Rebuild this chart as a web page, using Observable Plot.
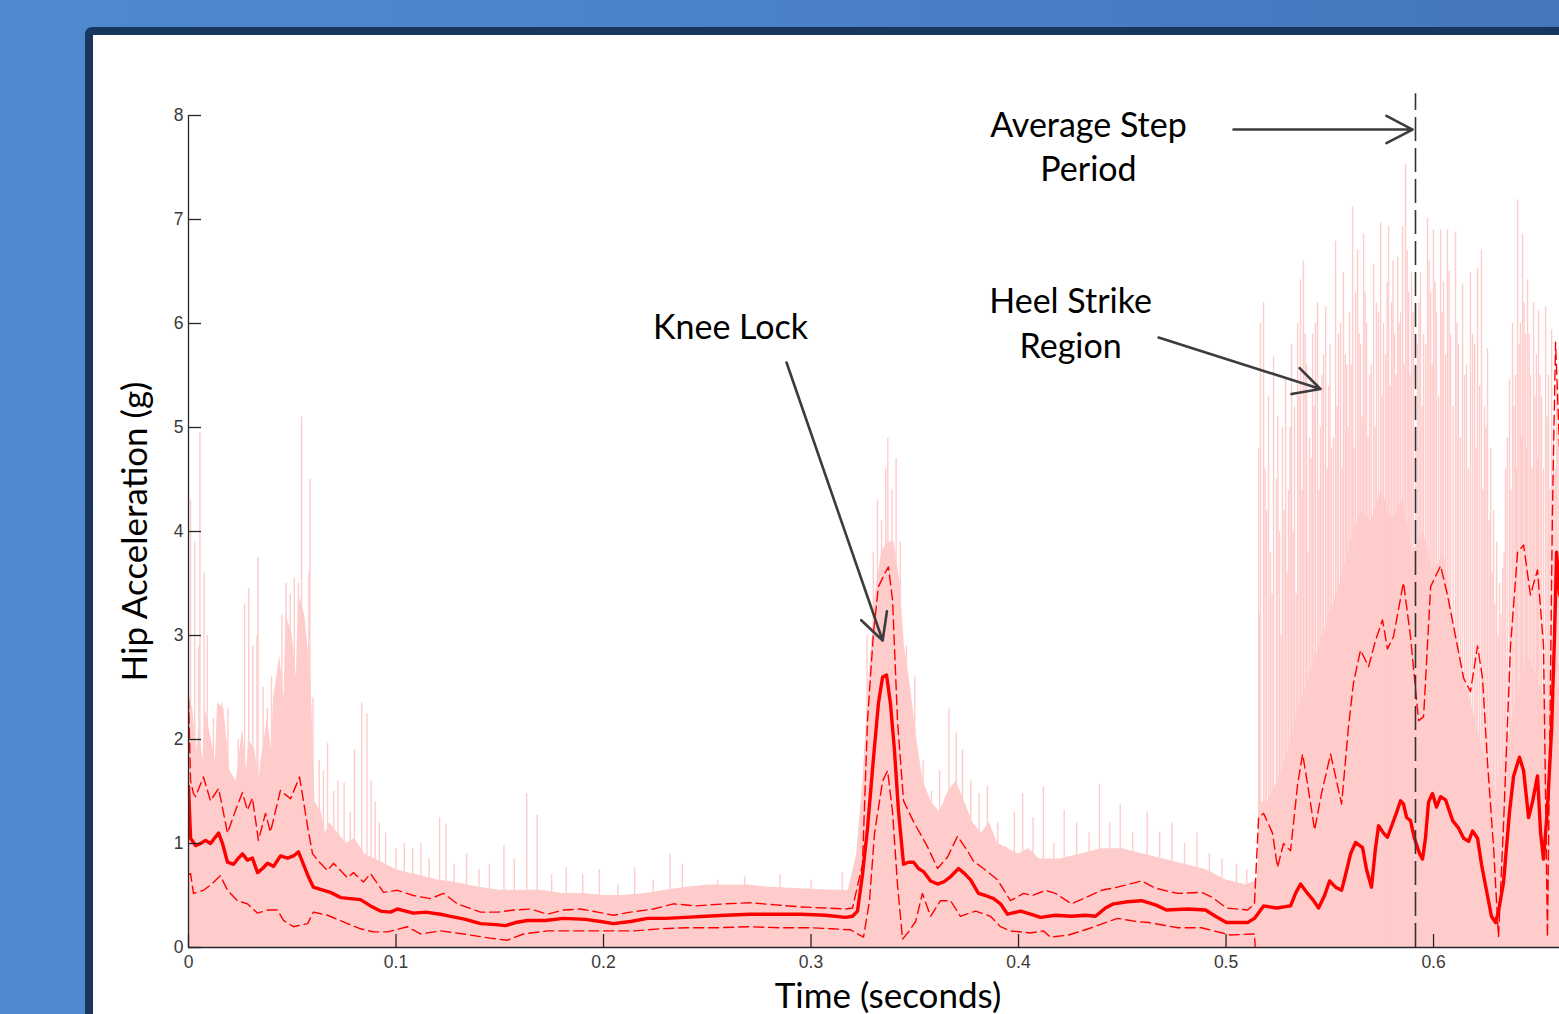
<!DOCTYPE html>
<html><head><meta charset="utf-8">
<script src="https://cdn.jsdelivr.net/npm/d3@7"></script>
<script src="https://cdn.jsdelivr.net/npm/@observablehq/plot@0.6"></script>
<style>
html,body{margin:0;padding:0;width:1559px;height:1014px;overflow:hidden;}
body{background:linear-gradient(to right,#5189d1 0%,#4b81c9 50%,#4576bb 100%);position:relative;}
#frame{position:absolute;left:85px;top:27px;width:1520px;height:1050px;background:#fff;border:8px solid #17375e;border-radius:7px;}
#chart{position:absolute;left:93px;top:35px;}
</style></head><body>
<div id="frame"></div><div id="chart"></div>
<script>
// ---- data (time in seconds, hip acceleration in g) ----
const xTicks = [0, 0.1, 0.2, 0.3, 0.4, 0.5, 0.6];
const yTicks = [0, 1, 2, 3, 4, 5, 6, 7, 8];
const xLabel = "Time (seconds)";
const yLabel = "Hip Acceleration (g)";
const stepPeriod = 0.5913;
const stepLineTop = 8.21;

const meanCurve = [[0,1.55],[0.001,1.05],[0.0034,0.98],[0.0058,1.00],[0.0082,1.03],[0.0106,1.00],[0.0125,1.05],[0.0145,1.10],[0.0164,1.00],[0.0188,0.82],[0.0217,0.80],[0.0241,0.86],[0.026,0.90],[0.0284,0.84],[0.0308,0.86],[0.0333,0.72],[0.0357,0.76],[0.0381,0.81],[0.041,0.78],[0.0443,0.88],[0.0477,0.86],[0.0506,0.88],[0.053,0.92],[0.0554,0.80],[0.0578,0.68],[0.0602,0.58],[0.0636,0.56],[0.0684,0.53],[0.0733,0.48],[0.0781,0.47],[0.0829,0.46],[0.0877,0.40],[0.0925,0.35],[0.0973,0.34],[0.1007,0.37],[0.1046,0.35],[0.1084,0.33],[0.1142,0.34],[0.1214,0.32],[0.1263,0.30],[0.1335,0.27],[0.1407,0.23],[0.148,0.22],[0.1528,0.21],[0.1576,0.24],[0.1634,0.26],[0.172,0.26],[0.1807,0.28],[0.1913,0.27],[0.1986,0.25],[0.2048,0.23],[0.213,0.25],[0.2212,0.28],[0.2299,0.28],[0.2395,0.29],[0.2492,0.30],[0.2588,0.31],[0.2708,0.32],[0.2829,0.32],[0.2949,0.32],[0.307,0.31],[0.3166,0.29],[0.32,0.30],[0.3224,0.35],[0.3248,0.70],[0.3272,1.14],[0.3301,1.82],[0.3325,2.35],[0.3345,2.60],[0.3364,2.62],[0.3383,2.34],[0.3402,1.90],[0.3422,1.30],[0.3446,0.80],[0.347,0.82],[0.3494,0.82],[0.3518,0.76],[0.3542,0.73],[0.3576,0.64],[0.361,0.61],[0.3639,0.63],[0.3672,0.68],[0.3711,0.76],[0.374,0.71],[0.3769,0.65],[0.3807,0.52],[0.3841,0.50],[0.388,0.47],[0.3913,0.42],[0.3947,0.32],[0.401,0.35],[0.4058,0.32],[0.4106,0.29],[0.4178,0.31],[0.4255,0.30],[0.4323,0.31],[0.4371,0.30],[0.4419,0.38],[0.4458,0.42],[0.4525,0.44],[0.4593,0.45],[0.466,0.41],[0.4713,0.36],[0.4814,0.37],[0.4901,0.36],[0.4949,0.30],[0.5002,0.24],[0.507,0.24],[0.5104,0.24],[0.5137,0.28],[0.5181,0.40],[0.5243,0.38],[0.5311,0.40],[0.5335,0.52],[0.5359,0.61],[0.5393,0.52],[0.5422,0.45],[0.5446,0.38],[0.5475,0.50],[0.5499,0.64],[0.5528,0.58],[0.5557,0.55],[0.5581,0.74],[0.56,0.90],[0.5624,1.01],[0.5658,0.96],[0.5677,0.75],[0.5701,0.58],[0.572,0.95],[0.5735,1.17],[0.5759,1.10],[0.5778,1.06],[0.5802,1.19],[0.5822,1.30],[0.5841,1.41],[0.5855,1.38],[0.587,1.25],[0.5889,1.22],[0.5908,1.05],[0.5933,0.90],[0.5947,0.85],[0.5961,1.05],[0.5976,1.40],[0.5995,1.48],[0.6014,1.35],[0.6034,1.45],[0.6058,1.42],[0.6092,1.22],[0.612,1.15],[0.6145,1.05],[0.6169,1.02],[0.6188,1.12],[0.6212,1.05],[0.6231,0.80],[0.6255,0.55],[0.6279,0.30],[0.6299,0.24],[0.6313,0.35],[0.6337,0.62],[0.6366,1.30],[0.6386,1.65],[0.6414,1.83],[0.6434,1.70],[0.6458,1.25],[0.6477,1.40],[0.6501,1.65],[0.6516,1.10],[0.653,0.85],[0.6549,1.34],[0.6569,2.10],[0.6583,3.00],[0.6593,3.80],[0.6607,3.40],[0.6636,3.20]];

const upperCurve = [[0,2.40],[0.001,1.60],[0.0024,1.48],[0.0034,1.45],[0.0072,1.64],[0.0106,1.41],[0.0145,1.53],[0.0188,1.10],[0.0227,1.32],[0.026,1.49],[0.0284,1.32],[0.0308,1.44],[0.0337,1.03],[0.0371,1.29],[0.0395,1.11],[0.0443,1.51],[0.0492,1.43],[0.0535,1.64],[0.0554,1.41],[0.0574,1.16],[0.0598,0.90],[0.0636,0.81],[0.067,0.74],[0.0699,0.81],[0.0766,0.67],[0.0795,0.72],[0.0843,0.63],[0.0877,0.71],[0.094,0.53],[0.1007,0.55],[0.1084,0.50],[0.1166,0.47],[0.1229,0.52],[0.1296,0.42],[0.1407,0.34],[0.1489,0.34],[0.1566,0.36],[0.1648,0.37],[0.173,0.32],[0.1807,0.36],[0.1889,0.37],[0.1971,0.34],[0.2048,0.31],[0.213,0.34],[0.2241,0.37],[0.2337,0.42],[0.2443,0.40],[0.2588,0.42],[0.2708,0.43],[0.2829,0.41],[0.2949,0.39],[0.307,0.38],[0.3166,0.37],[0.32,0.38],[0.3248,0.80],[0.3272,2.17],[0.3301,3.03],[0.3325,3.47],[0.3359,3.61],[0.3373,3.66],[0.3393,3.34],[0.3417,2.17],[0.3446,1.41],[0.3494,1.21],[0.3561,0.97],[0.361,0.76],[0.3658,0.87],[0.3706,1.07],[0.3754,0.93],[0.3783,0.83],[0.3831,0.76],[0.3899,0.65],[0.3961,0.45],[0.4024,0.52],[0.4067,0.50],[0.413,0.55],[0.4178,0.52],[0.4255,0.42],[0.4323,0.48],[0.44,0.55],[0.4477,0.58],[0.4593,0.64],[0.466,0.57],[0.4766,0.52],[0.4882,0.53],[0.4935,0.48],[0.5002,0.38],[0.5104,0.36],[0.5137,0.42],[0.5157,1.25],[0.5181,1.29],[0.5224,1.10],[0.5248,0.77],[0.5277,1.00],[0.5311,0.93],[0.5345,1.57],[0.5369,1.86],[0.5393,1.57],[0.5427,1.13],[0.546,1.48],[0.5504,1.86],[0.5557,1.38],[0.559,2.12],[0.5614,2.54],[0.5648,2.86],[0.5687,2.70],[0.572,2.95],[0.5754,3.15],[0.5778,2.87],[0.5807,2.99],[0.5855,3.51],[0.5889,2.99],[0.5928,2.18],[0.5952,2.22],[0.5986,3.47],[0.6034,3.67],[0.6067,3.39],[0.6106,2.99],[0.6145,2.59],[0.6178,2.46],[0.6212,2.90],[0.6236,2.59],[0.626,1.78],[0.6289,0.97],[0.6313,0.10],[0.6337,1.17],[0.6371,2.90],[0.6405,3.80],[0.6434,3.87],[0.6467,3.39],[0.6501,3.63],[0.653,2.90],[0.6549,0.10],[0.6573,4.20],[0.6588,5.82],[0.6607,4.81]];

const lowerCurve = [[0,0.70],[0.001,0.71],[0.0024,0.52],[0.0072,0.55],[0.0106,0.60],[0.0154,0.69],[0.0188,0.55],[0.0236,0.45],[0.0284,0.42],[0.0333,0.33],[0.0381,0.36],[0.0429,0.36],[0.0458,0.26],[0.0506,0.20],[0.0574,0.23],[0.0602,0.34],[0.067,0.31],[0.0766,0.23],[0.0829,0.18],[0.0891,0.15],[0.0959,0.15],[0.1055,0.20],[0.1118,0.13],[0.1214,0.16],[0.1325,0.13],[0.1455,0.09],[0.1537,0.07],[0.1614,0.13],[0.173,0.16],[0.1807,0.16],[0.1923,0.16],[0.2048,0.16],[0.2145,0.16],[0.2275,0.18],[0.24,0.19],[0.255,0.19],[0.27,0.20],[0.285,0.19],[0.30,0.19],[0.31,0.18],[0.319,0.17],[0.3253,0.10],[0.3282,0.45],[0.3306,1.10],[0.3345,1.60],[0.3369,1.70],[0.3393,1.30],[0.3417,0.60],[0.3441,0.08],[0.347,0.15],[0.3504,0.25],[0.3537,0.52],[0.3576,0.30],[0.3624,0.45],[0.3672,0.45],[0.372,0.30],[0.3793,0.35],[0.3865,0.30],[0.3913,0.20],[0.3961,0.16],[0.4058,0.14],[0.412,0.16],[0.4154,0.10],[0.4241,0.12],[0.4337,0.18],[0.4419,0.24],[0.4477,0.28],[0.4569,0.25],[0.4627,0.24],[0.4766,0.19],[0.4882,0.19],[0.502,0.12],[0.5137,0.13],[0.5157,-0.6],[0.53,-0.9],[0.56,-1.6],[0.59,-1.4],[0.62,-0.9],[0.6313,-0.4],[0.64,-1.5],[0.6607,-1.8]];

// dense core of the individual (pink) step traces: upper edge
const traceBand = [[0,2.4],[0.002,2.3],[0.004,1.9],[0.005,2.1],[0.007,1.8],[0.008,2.3],[0.011,2.0],[0.013,1.8],[0.014,2.35],[0.017,2.3],[0.02,1.7],[0.023,1.6],[0.026,2.1],[0.028,1.7],[0.029,2.0],[0.032,1.9],[0.034,1.6],[0.035,1.8],[0.038,2.2],[0.04,1.9],[0.041,2.4],[0.044,2.8],[0.046,2.4],[0.047,3.2],[0.05,3.0],[0.052,2.6],[0.053,3.4],[0.056,3.2],[0.059,2.6],[0.061,1.4],[0.064,1.3],[0.066,1.1],[0.068,1.2],[0.072,1.1],[0.076,1.0],[0.08,1.05],[0.085,0.9],[0.09,0.85],[0.095,0.8],[0.1,0.75],[0.105,0.72],[0.11,0.7],[0.12,0.65],[0.13,0.62],[0.14,0.58],[0.15,0.55],[0.16,0.55],[0.17,0.55],[0.18,0.52],[0.19,0.52],[0.2,0.5],[0.21,0.5],[0.22,0.52],[0.23,0.55],[0.24,0.58],[0.25,0.6],[0.26,0.6],[0.27,0.6],[0.28,0.58],[0.29,0.57],[0.3,0.56],[0.31,0.55],[0.318,0.55],[0.322,0.9],[0.325,1.6],[0.328,2.6],[0.331,3.4],[0.334,3.8],[0.337,3.9],[0.34,3.9],[0.343,3.5],[0.345,2.9],[0.348,2.5],[0.351,2.0],[0.354,1.6],[0.358,1.4],[0.362,1.3],[0.366,1.5],[0.37,1.6],[0.374,1.4],[0.378,1.2],[0.382,1.1],[0.386,1.2],[0.39,1.0],[0.395,0.95],[0.4,0.9],[0.405,0.95],[0.41,0.85],[0.42,0.85],[0.43,0.9],[0.44,0.95],[0.45,0.95],[0.46,0.9],[0.47,0.85],[0.48,0.8],[0.49,0.75],[0.5,0.65],[0.51,0.6],[0.515,0.65],[0.517,1.4],[0.52,1.4],[0.525,1.6],[0.53,1.9],[0.535,2.3],[0.54,2.6],[0.545,2.9],[0.55,3.2],[0.555,3.5],[0.56,3.9],[0.565,4.2],[0.57,4.1],[0.575,4.4],[0.58,4.1],[0.585,4.3],[0.59,3.8],[0.595,4.0],[0.6,3.6],[0.605,3.8],[0.61,3.1],[0.615,2.6],[0.62,2.2],[0.625,1.8],[0.63,1.5],[0.635,1.9],[0.64,2.4],[0.645,2.8],[0.65,2.6],[0.655,2.3],[0.66,2.5],[0.665,2.5]];

// peaks of individual (pink) step traces
const tracePeaks = [[0.001,4.3],[0.003,3.9],[0.005,2.9],[0.0055,4.95],[0.0075,3.6],[0.009,3.0],[0.012,2.2],[0.016,2.35],[0.019,2.3],[0.024,2.0],[0.027,3.3],[0.029,3.45],[0.031,2.9],[0.033,3.0],[0.0335,3.75],[0.036,2.5],[0.038,2.3],[0.04,2.6],[0.043,2.5],[0.045,3.2],[0.047,3.5],[0.049,3.4],[0.051,3.55],[0.053,3.5],[0.0545,5.1],[0.056,3.0],[0.058,3.6],[0.0585,4.5],[0.06,2.4],[0.063,1.8],[0.065,1.7],[0.067,1.96],[0.07,1.5],[0.072,1.6],[0.075,1.58],[0.078,1.3],[0.08,1.9],[0.0835,2.35],[0.086,2.25],[0.088,1.6],[0.09,1.4],[0.092,1.2],[0.095,1.1],[0.1,0.95],[0.104,1.0],[0.108,0.95],[0.112,1.0],[0.116,0.85],[0.121,1.25],[0.124,1.19],[0.128,0.8],[0.134,0.9],[0.14,0.75],[0.145,0.8],[0.152,0.98],[0.157,0.85],[0.163,1.48],[0.168,1.27],[0.175,0.7],[0.182,0.77],[0.19,0.7],[0.198,0.75],[0.207,0.6],[0.215,0.77],[0.224,0.65],[0.232,0.9],[0.238,0.8],[0.255,0.65],[0.268,0.68],[0.285,0.7],[0.3,0.65],[0.315,0.72],[0.327,3.0],[0.33,3.8],[0.332,4.3],[0.334,4.1],[0.336,4.6],[0.337,4.9],[0.339,4.4],[0.341,4.7],[0.343,3.9],[0.346,2.9],[0.35,2.6],[0.354,1.8],[0.358,1.5],[0.362,1.7],[0.3665,2.3],[0.37,2.07],[0.373,1.9],[0.377,1.6],[0.381,1.48],[0.385,1.55],[0.39,1.2],[0.394,0.97],[0.398,1.3],[0.402,1.48],[0.407,1.25],[0.412,1.54],[0.417,1.0],[0.422,1.32],[0.428,1.2],[0.434,1.1],[0.439,1.57],[0.444,1.2],[0.449,1.38],[0.455,1.1],[0.462,1.3],[0.468,1.11],[0.474,1.2],[0.48,1.0],[0.486,1.1],[0.492,0.9],[0.498,0.85],[0.505,0.8],[0.51,0.75],[0.5157,4.8],[0.5162,3.2],[0.5166,6.0],[0.5181,6.2],[0.5188,4.6],[0.5195,4.2],[0.5205,5.3],[0.5214,3.8],[0.5222,3.4],[0.5229,5.68],[0.5243,4.5],[0.525,5.1],[0.5258,4.0],[0.5265,3.0],[0.5272,5.0],[0.528,4.2],[0.5287,5.46],[0.5294,3.6],[0.5301,4.4],[0.5309,5.0],[0.5316,5.8],[0.5323,4.0],[0.533,5.2],[0.5338,3.4],[0.5345,6.0],[0.5352,5.3],[0.5359,6.42],[0.5366,4.4],[0.5373,6.6],[0.5381,5.9],[0.5388,5.6],[0.5395,3.8],[0.5402,4.9],[0.541,4.7],[0.5417,5.9],[0.5424,5.2],[0.5431,6.0],[0.5441,6.2],[0.5448,4.4],[0.5455,5.0],[0.5463,5.5],[0.547,5.7],[0.548,6.16],[0.5487,4.6],[0.5494,5.4],[0.5501,5.8],[0.5508,4.8],[0.5518,4.9],[0.5528,6.79],[0.5535,5.2],[0.5542,5.9],[0.5552,6.0],[0.5559,4.6],[0.5566,6.49],[0.5574,5.7],[0.5581,5.6],[0.5588,5.0],[0.5595,6.1],[0.5603,5.6],[0.561,7.12],[0.5617,4.8],[0.5624,6.3],[0.5634,6.71],[0.5641,5.9],[0.5648,5.8],[0.5656,5.1],[0.5663,6.86],[0.567,6.3],[0.5677,6.0],[0.5684,4.9],[0.5692,5.5],[0.57,5.6],[0.5711,6.57],[0.5718,5.0],[0.5725,6.2],[0.5735,6.1],[0.5745,6.97],[0.5752,5.3],[0.5759,6.0],[0.5769,5.7],[0.5776,6.4],[0.5783,6.93],[0.579,5.4],[0.5798,6.2],[0.5805,6.6],[0.5812,5.9],[0.582,5.5],[0.5827,6.64],[0.5834,6.0],[0.5841,6.1],[0.5851,6.93],[0.5858,5.6],[0.5865,7.53],[0.5873,6.7],[0.588,6.3],[0.5887,5.5],[0.5894,6.49],[0.5902,6.1],[0.5915,5.0],[0.5923,5.8],[0.593,6.2],[0.5937,6.49],[0.5945,5.2],[0.5952,5.9],[0.5962,5.8],[0.5971,7.01],[0.5978,6.6],[0.5986,6.3],[0.5993,5.6],[0.6,6.9],[0.6007,6.4],[0.6014,6.1],[0.6024,5.3],[0.6034,6.9],[0.6041,6.1],[0.6048,6.4],[0.6058,5.7],[0.6067,6.9],[0.6075,6.5],[0.6082,5.9],[0.6094,5.2],[0.6106,6.88],[0.6113,6.0],[0.612,5.8],[0.613,4.9],[0.614,6.38],[0.615,5.5],[0.6159,5.6],[0.6168,4.6],[0.6178,6.49],[0.6188,5.9],[0.6198,5.8],[0.6205,4.8],[0.6212,6.53],[0.6222,5.4],[0.6231,6.71],[0.6238,4.4],[0.6246,5.2],[0.6253,5.0],[0.626,5.76],[0.6268,4.1],[0.6275,4.8],[0.6282,3.6],[0.6289,4.2],[0.6296,3.3],[0.6304,3.9],[0.6311,3.0],[0.6318,3.5],[0.6325,3.2],[0.6333,3.65],[0.634,3.8],[0.6347,4.6],[0.6356,4.9],[0.6366,5.46],[0.6373,4.4],[0.6381,6.0],[0.6388,5.2],[0.6395,5.5],[0.64,4.6],[0.6405,7.19],[0.6412,5.8],[0.6419,6.0],[0.6424,4.9],[0.6429,6.86],[0.6436,6.2],[0.6443,5.9],[0.6448,4.8],[0.6453,6.42],[0.646,5.9],[0.6467,5.5],[0.6475,4.6],[0.6482,6.2],[0.6489,5.3],[0.6496,5.7],[0.6501,4.7],[0.6506,6.12],[0.6513,5.5],[0.652,5.3],[0.653,4.6],[0.654,6.16],[0.6547,5.1],[0.6554,5.5],[0.6561,4.4],[0.6569,5.94],[0.6578,5.0],[0.6586,4.6],[0.6593,5.4],[0.66,5.0],[0.6607,5.76]];

const annotations = [
  {t: 0.2612, g: 5.99, text: "Knee Lock"},
  {t: 0.4337, g: 7.72, text: "Average Step\nPeriod"},
  {t: 0.4251, g: 6.02, text: "Heel Strike\nRegion"}
];
const arrows = [
  {t1: 0.2882, g1: 5.625, t2: 0.3345, g2: 2.952},
  {t1: 0.5036, g1: 7.865, t2: 0.5899, g2: 7.865},
  {t1: 0.4675, g1: 5.865, t2: 0.5455, g2: 5.37}
];

// ---- layout ----
const W = 1466, H = 979, mL = 95, mT = 80, mR = 0, mB = 67;
const frameW = W - mL - mR, frameH = H - mT - mB;
const xMax = 0.6607;
const toRows = a => a.map(([t, g]) => ({t, g}));
const RED = "#ff0000", PINK = "#ffcccc", AXIS = "#262626";
const textFont = "Lato, 'Open Sans', sans-serif";
const tickFont = "'Liberation Sans', Arial, sans-serif";

const chart = Plot.plot({
  width: W, height: H,
  marginLeft: mL, marginTop: mT, marginRight: mR, marginBottom: mB,
  x: {domain: [0, xMax], axis: null},
  y: {domain: [0, 8], axis: null},
  style: {background: "transparent", overflow: "visible", fontFamily: tickFont},
  marks: [
    Plot.areaY(toRows(traceBand), {x: "t", y: "g", fill: PINK, clip: true}),
    Plot.ruleX(toRows(tracePeaks), {x: "t", y1: 0, y2: "g", stroke: PINK, strokeWidth: 1.4, clip: true}),
    Plot.line(toRows(lowerCurve), {x: "t", y: "g", stroke: RED, strokeWidth: 1.4, strokeDasharray: "10,5", clip: true}),
    Plot.line(toRows(upperCurve), {x: "t", y: "g", stroke: RED, strokeWidth: 1.4, strokeDasharray: "10,5", clip: true}),
    Plot.line(toRows(meanCurve), {x: "t", y: "g", stroke: RED, strokeWidth: 3.4, strokeLinejoin: "round", clip: true}),
    Plot.ruleX([stepPeriod], {y1: 0, y2: stepLineTop, stroke: "#333", strokeWidth: 1.6, strokeDasharray: "24,7"}),
    // axes
    Plot.ruleX([0], {y1: 0, y2: 8, stroke: AXIS, strokeWidth: 1.3}),
    Plot.ruleY([0], {stroke: AXIS, strokeWidth: 1.3}),
    Plot.tickX(xTicks, {x: d => d, insetTop: frameH - 13, stroke: AXIS, strokeWidth: 1.3}),
    Plot.tickY(yTicks, {y: d => d, insetRight: frameW - 13, stroke: AXIS, strokeWidth: 1.3}),
    Plot.text(xTicks, {x: d => d, text: d => String(d), frameAnchor: "bottom", lineAnchor: "top", dy: 8, fontSize: 17.5, fill: "#3a3a3a"}),
    Plot.text(yTicks, {y: d => d, text: d => String(d), frameAnchor: "left", textAnchor: "end", dx: -5, fontSize: 17.5, fill: "#3a3a3a"}),
    Plot.text([yLabel], {frameAnchor: "left", textAnchor: "middle", lineAnchor: "middle", dx: -53, rotate: -90, fontSize: 35, fontFamily: textFont, fill: "#000"}),
    Plot.text([xLabel], {frameAnchor: "bottom", textAnchor: "middle", lineAnchor: "middle", dx: 14, dy: 49, fontSize: 35, fontFamily: textFont, fill: "#000"}),
    // annotations
    Plot.arrow(arrows, {x1: "t1", y1: "g1", x2: "t2", y2: "g2", stroke: "#3c3c3c", strokeWidth: 2.6, headLength: 17, headAngle: 55}),
    Plot.text(annotations, {x: "t", y: "g", text: "text", fontSize: 34, lineHeight: 1.3, fontFamily: textFont, fill: "#000"})
  ]
});
document.getElementById("chart").appendChild(chart);
</script></body></html>
